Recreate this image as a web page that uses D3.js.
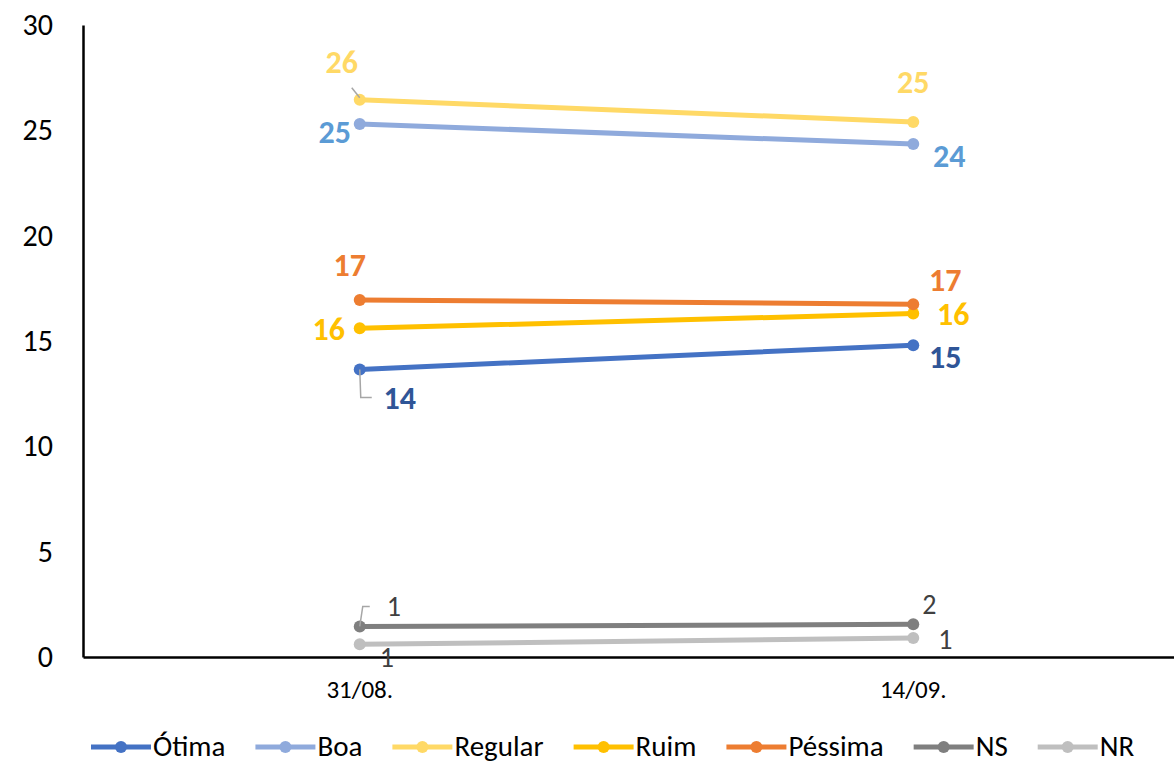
<!DOCTYPE html>
<html><head><meta charset="utf-8">
<script src="https://cdn.jsdelivr.net/npm/d3@7"></script>
<style>
html,body{margin:0;padding:0;background:#fff;}
svg{display:block;}
</style></head>
<body><svg id="c" width="1174" height="763"></svg>
<script>
const categories = ["31/08.", "14/09."];
const seriesNames = ["Ótima", "Boa", "Regular", "Ruim", "Péssima", "NS", "NR"];
const otima   = [13.65, 14.8];
const boa     = [25.3, 24.35];
const regular = [26.45, 25.4];
const ruim    = [15.6, 16.3];
const pessima = [16.95, 16.75];
const ns      = [1.45, 1.55];
const nr      = [0.6, 0.9];
const yTicks  = [0, 5, 10, 15, 20, 25, 30];

const values = [otima, boa, regular, ruim, pessima, ns, nr];
const lineColors  = ["#4472C4", "#8FAADC", "#FFD966", "#FFC000", "#ED7D31", "#7F7F7F", "#BFBFBF"];
const labelColors = ["#2F5597", "#5B9BD5", "#FFD966", "#FFC000", "#ED7D31", "#404040", "#404040"];
// label offsets (dx, dy) relative to each point, per series, per category
const labelOff = [
  [[40, 29], [32, 12]],
  [[-25, 8], [36, 12]],
  [[-18, -37], [0, -39]],
  [[-31, 1], [40, 1]],
  [[-10, -34], [32, -24]],
  [[34, -20], [16, -20]],
  [[27, 13], [32, 1]]
];
const boldLabel = [true, true, true, true, true, false, false];

const svg = d3.select("#c");
const font = "Carlito, Calibri, Lato, 'Open Sans', sans-serif";
const y = d3.scaleLinear().domain([0, 30]).range([657, 25]);
const x = d3.scaleBand().domain(categories).range([83, 1190]);
const cx = c => x(c) + x.bandwidth() / 2;

// y axis
const yAxis = svg.append("g").attr("transform", "translate(83,0)")
  .call(d3.axisLeft(y).tickValues(yTicks).tickSize(0).tickPadding(30));
yAxis.select(".domain").attr("stroke", "#000").attr("stroke-width", 2.5);
yAxis.selectAll("text").attr("font-family", font).attr("font-size", 30).attr("fill", "#000");

// x axis
const xAxis = svg.append("g").attr("transform", "translate(0,657)")
  .call(d3.axisBottom(x).tickSize(0).tickPadding(23));
xAxis.select(".domain").attr("stroke", "#000").attr("stroke-width", 2.5);
xAxis.selectAll("text").attr("font-family", font).attr("font-size", 25).attr("fill", "#000");

const line = d3.line().x((d, i) => cx(categories[i])).y(d => y(d));

// leader lines
const leaders = [
  { s: 2, pts: [[-8, -12], [0, -2]] },
  { s: 0, pts: [[0, 0], [1, 28], [12, 28]] },
  { s: 5, pts: [[0, 0], [3, -20], [10, -20]] }
];

values.forEach((vals, s) => {
  const g = svg.append("g");
  g.append("path").datum(vals).attr("d", line).attr("fill", "none")
    .attr("stroke", lineColors[s]).attr("stroke-width", 5).attr("stroke-linecap", "round");
  g.selectAll("circle").data(vals).join("circle")
    .attr("cx", (d, i) => cx(categories[i])).attr("cy", d => y(d)).attr("r", 6)
    .attr("fill", lineColors[s]);
});

leaders.forEach(L => {
  const px = cx(categories[0]), py = y(values[L.s][0]);
  svg.append("polyline")
    .attr("points", L.pts.map(p => (px + p[0]) + "," + (py + p[1])).join(" "))
    .attr("fill", "none").attr("stroke", "#A6A6A6").attr("stroke-width", 1.5);
});

values.forEach((vals, s) => {
  svg.append("g").selectAll("text").data(vals).join("text")
    .attr("x", (d, i) => cx(categories[i]) + labelOff[s][i][0])
    .attr("y", (d, i) => y(d) + labelOff[s][i][1])
    .attr("text-anchor", "middle").attr("dominant-baseline", "central")
    .attr("font-family", font).attr("font-size", boldLabel[s] ? 32 : 28)
    .attr("font-weight", boldLabel[s] ? "bold" : "normal")
    .attr("fill", labelColors[s])
    .text(d => d3.format(".0f")(d));
});

// legend
const leg = svg.append("g");
let lx = 91;
const ly = 747;
seriesNames.forEach((n, s) => {
  const it = leg.append("g");
  it.append("line").attr("x1", lx).attr("x2", lx + 60).attr("y1", ly).attr("y2", ly)
    .attr("stroke", lineColors[s]).attr("stroke-width", 5);
  it.append("circle").attr("cx", lx + 30).attr("cy", ly).attr("r", 6).attr("fill", lineColors[s]);
  const t = it.append("text").attr("x", lx + 62).attr("y", 756)
    .attr("font-family", font).attr("font-size", 29).attr("fill", "#000").text(n);
  lx += 62 + t.node().getComputedTextLength() + 30;
});
</script></body></html>
